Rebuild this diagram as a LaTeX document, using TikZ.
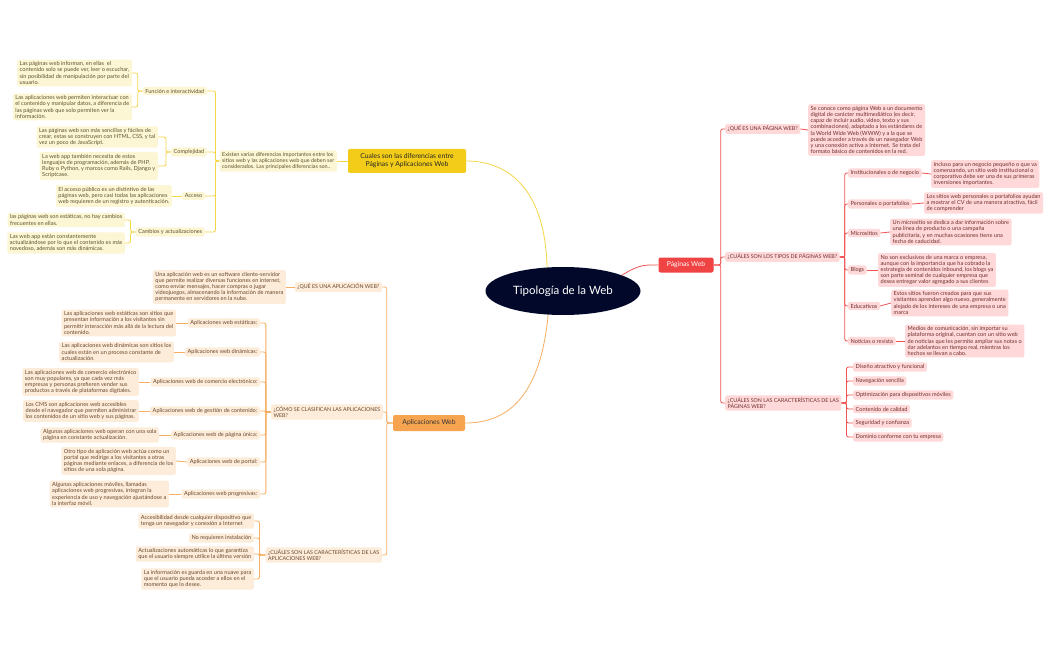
\documentclass[tikz,border=0pt]{standalone}
\usepackage{fontspec}
\setmainfont{Lato}
\usetikzlibrary{shapes.geometric}

\definecolor{navy}{RGB}{2,8,42}
\definecolor{ymain}{RGB}{242,204,24}
\definecolor{yline}{RGB}{245,214,70}
\definecolor{ylight}{RGB}{253,246,212}
\definecolor{ytext}{RGB}{92,82,45}
\definecolor{rmain}{RGB}{240,68,68}
\definecolor{rline}{RGB}{242,82,82}
\definecolor{rlight}{RGB}{255,217,217}
\definecolor{rtext}{RGB}{112,45,45}
\definecolor{omain}{RGB}{247,164,80}
\definecolor{oline}{RGB}{247,174,98}
\definecolor{olight}{RGB}{253,236,218}
\definecolor{otext}{RGB}{105,72,45}

\tikzset{
  leaf/.style={font=\fontsize{5.6}{6.2}\selectfont, rounded corners=2pt, inner xsep=2.5pt, inner ysep=2pt, align=left},
  caps/.style={font=\fontsize{5.3}{6.2}\selectfont},
  ybox/.style={leaf, fill=ylight, text=ytext},
  rbox/.style={leaf, fill=rlight, text=rtext},
  obox/.style={leaf, fill=olight, text=otext},
  topic/.style={font=\fontsize{6.8}{8.2}\selectfont, rounded corners=2pt, align=center, inner sep=2pt},
  ylink/.style={draw=yline, line width=0.8pt, rounded corners=2pt},
  rlink/.style={draw=rline, line width=0.8pt, rounded corners=2pt},
  olink/.style={draw=oline, line width=0.8pt, rounded corners=2pt}
}

\begin{document}
\begin{tikzpicture}[x=1pt,y=-1pt]
\useasboundingbox (0,0) rectangle (1050,650);
\fill[white] (0,0) rectangle (1050,650);

\node[ellipse, fill=navy, text=white, minimum width=155pt, minimum height=48pt, font=\fontsize{11.5}{13}\selectfont] (root) at (563,291) {Tipología de la Web};

% diferencias
\node[topic, fill=ymain, text=black!85, minimum width=118pt, minimum height=24pt] (diff) at (407,161) {Cuales son las diferencias entre\\Páginas y Aplicaciones Web};
\node[ybox, font=\fontsize{5.4}{6.2}\selectfont, anchor=east] (intro) at (337,161) {Existen varias diferencias importantes entre los\\sitios web y las aplicaciones web que deben ser\\considerados. Las principales diferencias son..};
\node[ybox, anchor=east] (fun) at (207,91) {Función e interactividad};
\node[ybox, anchor=east] (funA) at (132,73) {Las páginas web informan, en ellas\ \ el\\contenido solo se puede ver, leer o escuchar,\\sin posibilidad de manipulación por parte del\\usuario.};
\node[ybox, anchor=east] (funB) at (132,107) {Las aplicaciones web permiten interactuar con\\el contenido y manipular datos, a diferencia de\\las páginas web que solo permiten ver la\\información.};
\node[ybox, anchor=east] (com) at (207,152) {Complejidad};
\node[ybox, anchor=east] (comA) at (158,137) {Las páginas web son más sencillas y fáciles de\\crear, estas se construyen con HTML, CSS, y tal\\vez un poco de JavaScript.};
\node[ybox, anchor=east] (comB) at (158,166) {La web app también necesita de estos\\lenguajes de programación, además de PHP,\\Ruby o Python, y marcos como Rails, Django y\\Scriptcase.};
\node[ybox, anchor=east] (acc) at (205,196) {Acceso};
\node[ybox, anchor=east] (accA) at (172,196) {El acceso público es un distintivo de las\\páginas web, pero casi todas las aplicaciones\\web requieren de un registro y autenticación.};
\node[ybox, anchor=east] (cam) at (205,232) {Cambios y actualizaciones};
\node[ybox, anchor=east] (camA) at (125,220) {las páginas web son estáticas, no hay cambios\\frecuentes en ellas.};
\node[ybox, anchor=east] (camB) at (125,243) {Las web app están constantemente\\actualizándose por lo que el contenido es más\\novedoso, además son más dinámicas.};

\draw[ylink] (root.124) .. controls (545,185) and (505,161) .. (diff.east);
\draw[ylink] (diff.west) -- (intro.east);
\foreach \k in {fun,com,acc,cam} \draw[ylink] (intro.west) -- ++(-4,0) |- (\k.east);
\foreach \k in {funA,funB} \draw[ylink] (fun.west) -- ++(-5,0) |- (\k.east);
\foreach \k in {comA,comB} \draw[ylink] (com.west) -- ++(-5,0) |- (\k.east);
\draw[ylink] (acc.west) -- (accA.east);
\foreach \k in {camA,camB} \draw[ylink] (cam.west) -- ++(-5,0) |- (\k.east);

% paginas web
\node[topic, fill=rmain, text=white, minimum width=55pt, minimum height=15pt] (pag) at (686,265) {Páginas Web};
\node[rbox, caps, anchor=west] (pque) at (725,129) {¿QUÉ ES UNA PÁGINA WEB?};
\node[rbox, anchor=west] (pqueA) at (808,130) {Se conoce como página Web a un documento\\digital de carácter multimediático (es decir,\\capaz de incluir audio, video, texto y sus\\combinaciones), adaptado a los estándares de\\la World Wide Web (WWW) y a la que se\\puede acceder a través de un navegador Web\\y una conexión activa a Internet. Se trata del\\formato básico de contenidos en la red.};
\node[rbox, caps, anchor=west] (ptip) at (725,257) {¿CUÁLES SON LOS TIPOS DE PÁGINAS WEB?};
\node[rbox, anchor=west] (pins) at (848,173) {Institucionales o de negocio};
\node[rbox, anchor=west] (pinsA) at (931,174) {Incluso para un negocio pequeño o que va\\comenzando, un sitio web institucional o\\corporativo debe ser una de sus primeras\\inversiones importantes.};
\node[rbox, anchor=west] (pper) at (848,204) {Personales o portafolios};
\node[rbox, anchor=west] (pperA) at (924,203) {Los sitios web personales o portafolios ayudan\\a mostrar el CV de una manera atractiva, fácil\\de comprender};
\node[rbox, anchor=west] (pmic) at (848,233) {Micrositios};
\node[rbox, anchor=west] (pmicA) at (890,232) {Un micrositio se dedica a dar información sobre\\una línea de producto o una campaña\\publicitaria, y en muchas ocasiones tiene una\\fecha de caducidad.};
\node[rbox, anchor=west] (pblo) at (848,270) {Blogs};
\node[rbox, anchor=west] (pbloA) at (878,270) {No son exclusivos de una marca o empresa,\\aunque con la importancia que ha cobrado la\\estrategia de contenidos inbound, los blogs ya\\son parte seminal de cualquier empresa que\\desea entregar valor agregado a sus clientes};
\node[rbox, anchor=west] (pedu) at (848,306) {Educativos};
\node[rbox, anchor=west] (peduA) at (891,303) {Estos sitios fueron creados para que sus\\visitantes aprendan algo nuevo, generalmente\\alejado de los intereses de una empresa o una\\marca};
\node[rbox, anchor=west] (pnot) at (848,341) {Noticias o revista};
\node[rbox, anchor=west] (pnotA) at (905,341) {Medios de comunicación, sin importar su\\plataforma original, cuentan con un sitio web\\de noticias que les permite ampliar sus notas o\\dar adelantos en tiempo real, mientras los\\hechos se llevan a cabo.};
\node[rbox, caps, anchor=west] (pcar) at (725,403) {¿CUÁLES SON LAS CARACTERÍSTICAS DE LAS\\PÁGINAS WEB?};
\node[rbox, anchor=west] (pc1) at (853,367) {Diseño atractivo y funcional};
\node[rbox, anchor=west] (pc2) at (853,381) {Navegación sencilla};
\node[rbox, anchor=west] (pc3) at (853,395) {Optimización para dispositivos móviles};
\node[rbox, anchor=west] (pc4) at (853,409) {Contenido de calidad};
\node[rbox, anchor=west] (pc5) at (853,423) {Seguridad y confianza};
\node[rbox, anchor=west] (pc6) at (853,437) {Dominio conforme con tu empresa};

\draw[rlink] (root.15) .. controls (640,264) and (645,265) .. (pag.west);
\foreach \k in {pque,ptip,pcar} \draw[rlink] (pag.east) -- ++(7,0) |- (\k.west);
\draw[rlink] (pque.east) -- (pqueA.west);
\foreach \k in {pins,pper,pmic,pblo,pedu,pnot} \draw[rlink] (ptip.east) -- ++(5,0) |- (\k.west);
\draw[rlink] (pins.east) -- (pinsA.west);
\draw[rlink] (pper.east) -- (pperA.west);
\draw[rlink] (pmic.east) -- (pmicA.west);
\draw[rlink] (pblo.east) -- (pbloA.west);
\draw[rlink] (pedu.east) -- (peduA.west);
\draw[rlink] (pnot.east) -- (pnotA.west);
\foreach \k in {pc1,pc2,pc3,pc4,pc5,pc6} \draw[rlink] (pcar.east) -- ++(5,0) |- (\k.west);

% aplicaciones web
\node[topic, fill=omain, text=black!80, minimum width=72pt, minimum height=16pt] (apl) at (429,423) {Aplicaciones Web};
\node[obox, caps, anchor=east] (aque) at (382,287) {¿QUÉ ES UNA APLICACIÓN WEB?};
\node[obox, anchor=east] (aqueA) at (286,287) {Una aplicación web es un software cliente-servidor\\que permite realizar diversas funciones en internet,\\como enviar mensajes, hacer compras o jugar\\videojuegos, almacenando la información de manera\\permanente en servidores en la nube.};
\node[obox, caps, anchor=east] (acla) at (383,412) {¿CÓMO SE CLASIFICAN LAS APLICACIONES\\WEB?};
\node[obox, anchor=east] (aest) at (260,323) {Aplicaciones web estáticas:};
\node[obox, anchor=east] (aestA) at (176,323) {Las aplicaciones web estáticas son sitios que\\presentan información a los visitantes sin\\permitir interacción más allá de la lectura del\\contenido.};
\node[obox, anchor=east] (adin) at (260,352) {Aplicaciones web dinámicas:};
\node[obox, anchor=east] (adinA) at (174,352) {Las aplicaciones web dinámicas son sitios los\\cuales están en un proceso constante de\\actualización.};
\node[obox, anchor=east] (acom) at (260,382) {Aplicaciones web de comercio electrónico:};
\node[obox, anchor=east] (acomA) at (139,382) {Las aplicaciones web de comercio electrónico\\son muy populares, ya que cada vez más\\empresas y personas prefieren vender sus\\productos a través de plataformas digitales.};
\node[obox, anchor=east] (ages) at (260,411) {Aplicaciones web de gestión de contenido:};
\node[obox, anchor=east] (agesA) at (139,411) {Los CMS son aplicaciones web accesibles\\desde el navegador que permiten administrar\\los contenidos de un sitio web y sus páginas.};
\node[obox, anchor=east] (auni) at (260,435) {Aplicaciones web de página única:};
\node[obox, anchor=east] (auniA) at (159,435) {Algunas aplicaciones web operan con una sola\\página en constante actualización.};
\node[obox, anchor=east] (apor) at (260,462) {Aplicaciones web de portal:};
\node[obox, anchor=east] (aporA) at (176,461) {Otro tipo de aplicación web actúa como un\\portal que redirige a los visitantes a otras\\páginas mediante enlaces, a diferencia de los\\sitios de una sola página.};
\node[obox, anchor=east] (apro) at (260,494) {Aplicaciones web progresivas:};
\node[obox, anchor=east] (aproA) at (169,494) {Algunas aplicaciones móviles, llamadas\\aplicaciones web progresivas, integran la\\experiencia de uso y navegación ajustándose a\\la interfaz móvil.};
\node[obox, caps, anchor=east] (acar) at (382,555) {¿CUÁLES SON LAS CARACTERÍSTICAS DE LAS\\APLICACIONES WEB?};
\node[obox, anchor=east] (ac1) at (254,521) {Accesibilidad desde cualquier dispositivo que\\tenga un navegador y conexión a Internet};
\node[obox, anchor=east] (ac2) at (254,538) {No requieren instalación};
\node[obox, anchor=east] (ac3) at (254,554) {Actualizaciones automáticas lo que garantiza\\que el usuario siempre utilice la última versión};
\node[obox, anchor=east] (ac4) at (254,579) {La información es guarda en una nuave para\\que el usuario pueda acceder a ellos en el\\momento que lo desee.};

\draw[olink] (root.238) .. controls (540,400) and (505,423) .. (apl.east);
\foreach \k in {aque,acla,acar} \draw[olink] (apl.west) -- ++(-6,0) |- (\k.east);
\draw[olink] (aque.west) -- (aqueA.east);
\foreach \k in {aest,adin,acom,ages,auni,apor,apro} \draw[olink] (acla.west) -- ++(-5,0) |- (\k.east);
\draw[olink] (aest.west) -- (aestA.east);
\draw[olink] (adin.west) -- (adinA.east);
\draw[olink] (acom.west) -- (acomA.east);
\draw[olink] (ages.west) -- (agesA.east);
\draw[olink] (auni.west) -- (auniA.east);
\draw[olink] (apor.west) -- (aporA.east);
\draw[olink] (apro.west) -- (aproA.east);
\foreach \k in {ac1,ac2,ac3,ac4} \draw[olink] (acar.west) -- ++(-6,0) |- (\k.east);

\end{tikzpicture}
\end{document}
